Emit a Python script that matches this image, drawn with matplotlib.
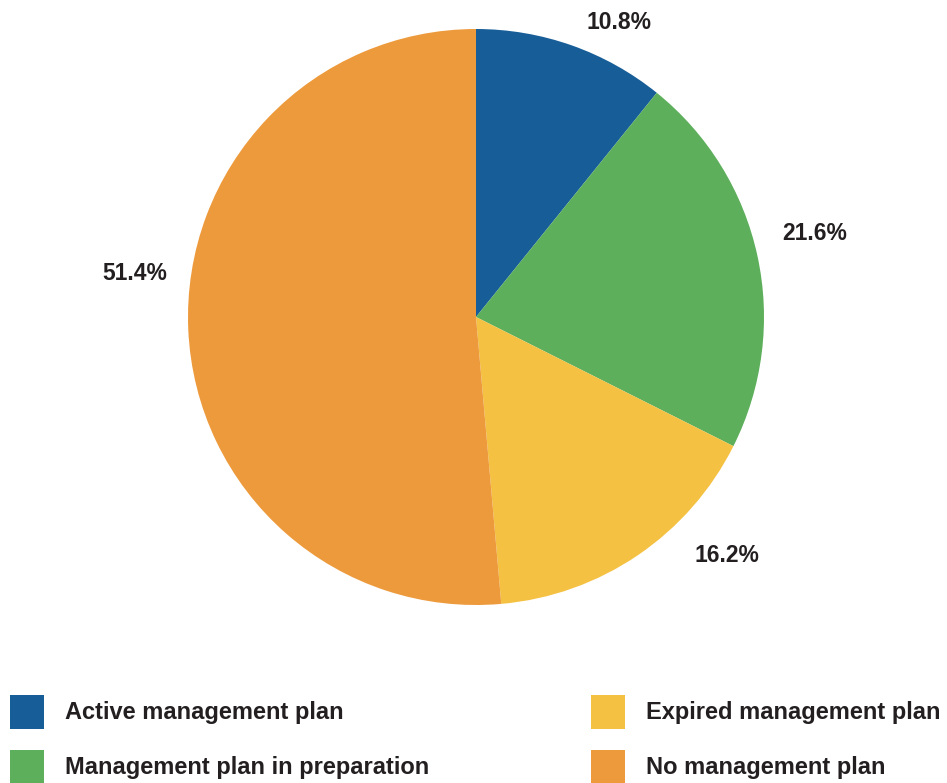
import matplotlib
matplotlib.use("Agg")
import matplotlib.pyplot as plt
from matplotlib.patches import Patch

categories = ["Active management plan", "Management plan in preparation",
              "Expired management plan", "No management plan"]
values = [10.8, 21.6, 16.2, 51.4]
colors = ["#175e98", "#5daf5b", "#f4c143", "#ed9a3c"]

# label centre positions (in pie-radius units)
label_pos = [(0.498, 1.030), (1.177, 0.299), (0.872, -0.819), (-1.184, 0.161)]

plt.rcParams['font.family'] = ['Liberation Sans', 'DejaVu Sans']
W, H = 947, 783
fig = plt.figure(figsize=(W / 100, H / 100), dpi=100)
cx, cy, r = 476, 317, 288
ax = fig.add_axes([(cx - r) / W, (H - cy - r) / H, 2 * r / W, 2 * r / H])

wedges, texts, autotexts = ax.pie(values, colors=colors, startangle=90, counterclock=False,
                                  autopct=lambda p: f"{p:.1f}%", pctdistance=1.15,
                                  wedgeprops=dict(linewidth=0))
ax.set_xlim(-1, 1)
ax.set_ylim(-1, 1)
for t, pos in zip(autotexts, label_pos):
    t.set_position(pos)
    t.set_ha('center')
    t.set_va('center_baseline')
    t.set_fontsize(16.5)
    t.set_fontweight('bold')
    t.set_color('#231f20')
    t.set_clip_on(False)

handles = [Patch(facecolor=c, edgecolor='none') for c in colors]
for idx, x0 in ((slice(0, 2), 10), (slice(2, 4), 591)):
    leg = fig.legend(handles[idx], categories[idx], bbox_to_anchor=(x0 / W, 1 - 695 / H),
                     frameon=False, handlelength=1.44, handleheight=1.81,
                     handletextpad=0.89, labelspacing=0.89, borderpad=0, borderaxespad=0,
                     loc='upper left', prop={'size': 17, 'weight': 'bold'})
    for txt in leg.get_texts():
        txt.set_color('#231f20')

fig.savefig("out.png", dpi=100, facecolor='white')
